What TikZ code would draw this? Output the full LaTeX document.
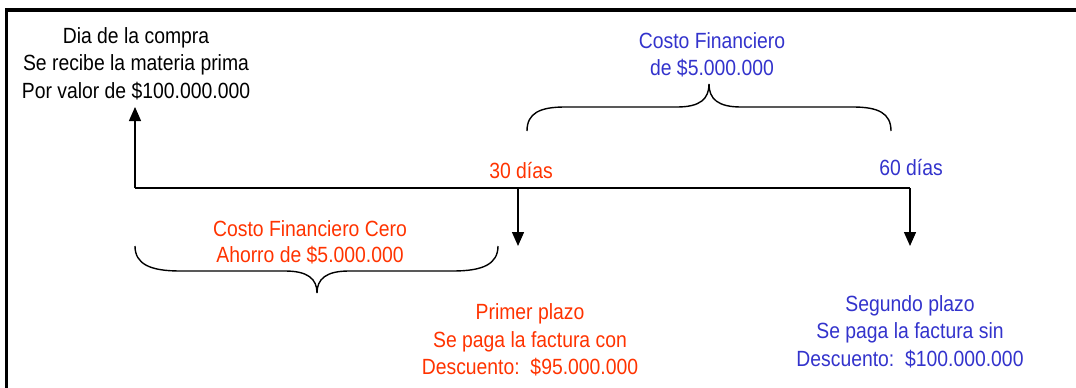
\documentclass[tikz,border=0pt]{standalone}
\usepackage{fontspec}
\setmainfont[FakeStretch=0.88]{Liberation Sans}
\usetikzlibrary{arrows.meta}
\definecolor{tred}{RGB}{255,51,0}
\definecolor{tblue}{RGB}{51,51,204}
\tikzset{
  lbl/.style={anchor=base,inner sep=0pt,font=\fontsize{22}{27}\selectfont},
  line/.style={draw=black,line width=1.4pt},
  arr/.style={line,-{Triangle[length=14pt,width=12pt]}},
  brace/.style={draw=black,line width=1.4pt},
  frame/.style={draw=black,line width=3.5pt}
}
\begin{document}
\begin{tikzpicture}[x=1pt,y=-1pt]
\useasboundingbox (0,0) rectangle (1076,388);
% frame (top and left)
\coordinate (fb) at (6.5,388);
\coordinate (fc) at (6.5,10.2);
\coordinate (fr) at (1076,10.2);
\draw[frame] (fb) -- (fc) -- (fr);
% axis
\coordinate (o) at (135,188);
\coordinate (u) at (135,107);
\coordinate (t30) at (518,188);
\coordinate (t60) at (910,188);
\coordinate (d30) at (518,246);
\coordinate (d60) at (910,246);
\draw[line] (o) -- (t60);
\draw[arr] (o) -- (u);
\draw[arr] (t30) -- (d30);
\draw[arr] (t60) -- (d60);
% bottom brace
\coordinate (bl) at (135,246);
\coordinate (br) at (498,246);
\coordinate (bt) at (317,293);
\draw[brace] (bl) .. controls (135,264) and (150,271) .. (180,271) -- (285,271)
  .. controls (308,271) and (317,279) .. (bt)
  .. controls (317,279) and (326,271) .. (349,271) -- (453,271)
  .. controls (483,271) and (498,264) .. (br);
% top brace
\coordinate (al) at (527,131);
\coordinate (ar) at (891,131);
\coordinate (at) at (709,84);
\draw[brace] (al) .. controls (527,113) and (540,107) .. (565,107) -- (677,107)
  .. controls (700,107) and (709,99) .. (at)
  .. controls (709,99) and (718,107) .. (741,107) -- (853,107)
  .. controls (878,107) and (891,113) .. (ar);
% texts
\node[lbl] (a1) at (136,43) {Dia de la compra};
\node[lbl] (a2) at (136,70) {Se recibe la materia prima};
\node[lbl] (a3) at (136,98) {Por valor de \$100.000.000};
\node[lbl,text=tblue] (c1) at (712,48) {Costo Financiero};
\node[lbl,text=tblue] (c2) at (712,75) {de \$5.000.000};
\node[lbl,text=tred] (d1) at (521,178) {30 días};
\node[lbl,text=tblue] (s1) at (911,175) {60 días};
\node[lbl,text=tred] (z1) at (310,236) {Costo Financiero Cero};
\node[lbl,text=tred] (z2) at (310,262) {Ahorro de \$5.000.000};
\node[lbl,text=tred] (p1) at (530,319) {Primer plazo};
\node[lbl,text=tred] (p2) at (530,347) {Se paga la factura con};
\node[lbl,text=tred] (p3) at (530,374) {Descuento:\ \ \$95.000.000};
\node[lbl,text=tblue] (q1) at (910,311) {Segundo plazo};
\node[lbl,text=tblue] (q2) at (910,338) {Se paga la factura sin};
\node[lbl,text=tblue] (q3) at (910,366) {Descuento:\ \ \$100.000.000};
\end{tikzpicture}
\end{document}
